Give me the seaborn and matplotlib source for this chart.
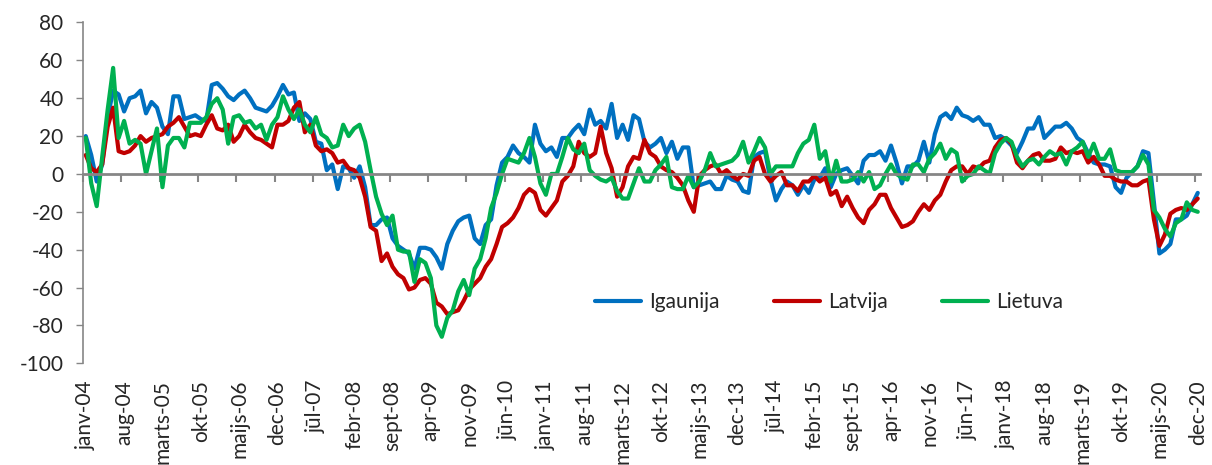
import pandas as pd
import matplotlib.pyplot as plt
import seaborn as sns

# Month names (Latvian) and years 2004-2020.
month_names = ["janv", "febr", "marts", "apr", "maijs", "jūn",
               "jūl", "aug", "sept", "okt", "nov", "dec"]
years = list(range(4, 21))
months = [f"{m}-{y:02d}" for y in years for m in month_names]

# Series values (one per month).
igaunija = [20, 10, -4, 5, 30, 44, 42, 33, 40, 41, 44, 32, 38, 35, 25, 21,
            41, 41, 29, 30, 31, 29, 28, 47, 48, 45, 41, 39, 42, 44, 40, 35,
            34, 33, 36, 41, 47, 42, 43, 28, 32, 29, 17, 16, 2, 5, -8, 4,
            3, -2, 4, -7, -27, -27, -24, -23, -34, -38, -40, -42, -50, -39,
            -39, -40, -44, -50, -37, -30, -25, -23, -22, -34, -37, -27,
            -24, -6, 6, 9, 15, 11, 9, 6, 26, 16, 12, 14, 9, 19, 19, 23,
            26, 21, 34, 26, 28, 24, 37, 19, 26, 18, 31, 29, 17, 14, 16,
            19, 11, 17, 8, 14, 14, -7, -6, -5, -4, -8, -8, -1, -3, -4, -9,
            -10, 9, 11, 12, -3, -14, -8, -4, -6, -11, -6, -10, -3, -2, 3,
            -7, 0, 2, 3, -1, -5, 7, 10, 10, 12, 7, 15, 6, -5, 4, 4, 7, 17,
            6, 21, 30, 32, 29, 35, 31, 30, 28, 30, 26, 26, 19, 20, 18, 15,
            11, 17, 24, 24, 30, 19, 22, 25, 25, 27, 24, 19, 17, 11, 6, 5,
            5, 4, -7, -10, -2, 1, 4, 12, 11, -15, -42, -40, -37, -24, -24,
            -22, -16, -10]

latvija = [10, 3, 1, 5, 25, 35, 12, 11, 12, 15, 20, 17, 19, 20, 21, 25,
           27, 30, 25, 20, 21, 20, 26, 31, 24, 23, 26, 17, 20, 26, 22, 19,
           18, 16, 14, 26, 26, 28, 35, 38, 22, 26, 15, 12, 13, 11, 6, 7,
           3, 2, -2, -12, -28, -30, -46, -42, -49, -53, -55, -61, -60, -56,
           -55, -58, -68, -70, -74, -73, -72, -67, -61, -58, -55, -49,
           -45, -37, -28, -26, -23, -18, -11, -8, -10, -19, -22, -18, -14,
           -4, -1, 4, 17, 11, 9, 11, 25, 11, 3, -12, -7, 4, 9, 8, 18, 11,
           9, 4, 2, 1, -2, -6, -14, -20, -1, 2, 4, 5, 0, 2, -1, -3, 0, -1,
           7, 9, 0, -4, -1, 1, -6, -6, -9, -4, -4, -1, -4, -2, -11, -9,
           -17, -12, -18, -23, -26, -19, -16, -11, -11, -18, -23, -28, -27,
           -25, -20, -16, -19, -14, -11, -4, 2, 4, 4, 0, 4, 3, 6, 7, 14,
           18, 19, 16, 6, 3, 7, 10, 11, 7, 7, 8, 14, 11, 12, 11, 12, 6, 9,
           5, -1, -1, -3, -4, -4, -6, -6, -4, -3, -24, -38, -32, -21, -19,
           -18, -19, -16, -13]

lietuva = [19, -5, -17, 9, 34, 56, 19, 28, 16, 18, 16, 0, 12, 24, -7, 15,
           19, 19, 14, 27, 27, 27, 30, 37, 40, 34, 16, 30, 31, 27, 28, 24,
           26, 18, 26, 30, 41, 34, 29, 34, 26, 22, 30, 21, 19, 14, 15, 26,
           20, 24, 26, 17, 2, -12, -21, -27, -22, -40, -41, -41, -57, -45,
           -47, -55, -80, -86, -76, -72, -62, -56, -64, -50, -45, -34, -18,
           -10, 0, 8, 7, 6, 11, 19, 9, -5, -11, 0, 0, 9, 19, 13, 11, 16, 2,
           -1, -3, -4, -2, -9, -13, -13, -5, 3, -4, -4, 2, 5, 9, -7, -8,
           -8, -1, -7, -4, 2, 11, 4, 5, 6, 7, 10, 17, 6, 12, 19, 14, 0, 4,
           4, 4, 4, 11, 16, 18, 26, 8, 12, -4, 7, -4, -4, -3, 1, -4, 1, -8,
           -6, 0, 5, 0, -2, -3, 5, 5, 1, 8, 11, 16, 8, 13, 11, -4, -1, 0,
           4, 2, 0, 11, 16, 19, 17, 9, 4, 7, 8, 5, 9, 12, 10, 11, 5, 12,
           14, 17, 9, 16, 8, 8, 13, 2, 1, 1, 1, 4, 10, 5, -19, -23, -29,
           -33, -26, -24, -15, -19, -20]

series_names = ["Igaunija", "Latvija", "Lietuva"]
colours = {"Igaunija": "#0070C0", "Latvija": "#C00000", "Lietuva": "#00B050"}

# Build a long DataFrame for seaborn.
n = len(months)
df = pd.DataFrame({
    "idx": list(range(n)) * 3,
    "value": igaunija + latvija + lietuva,
    "country": [s for s in series_names for _ in range(n)],
})

sns.set_style("white")
plt.rcParams["font.family"] = ["Lato", "DejaVu Sans"]
plt.rcParams["axes.unicode_minus"] = False

fig = plt.figure(figsize=(12.12, 4.65), dpi=100)
ax = fig.add_axes([0.0685, 0.2187, 0.922, 0.733])

sns.lineplot(data=df, x="idx", y="value", hue="country", palette=colours,
             linewidth=3, ax=ax)

axis_grey = "#868686"
label_size = 15

# Y axis.
ax.set_ylim(-100, 80)
ax.set_yticks(range(-100, 81, 20))
ax.tick_params(axis="y", direction="out", length=5, width=1,
               color=axis_grey, labelsize=label_size, pad=9, left=True)
ax.spines["left"].set_color(axis_grey)
ax.spines["left"].set_linewidth(1.2)
ax.spines["top"].set_visible(False)
ax.spines["right"].set_visible(False)

# X axis line at zero with tick marks between categories.
ax.set_xlim(-0.5, n - 0.5)
ax.spines["bottom"].set_position(("data", 0))
ax.spines["bottom"].set_color(axis_grey)
ax.spines["bottom"].set_linewidth(2)
ax.set_xticks([i - 0.5 for i in range(0, n + 1, 7)])
ax.tick_params(axis="x", direction="out", length=6, width=1.5,
               color=axis_grey, labelbottom=False, bottom=True)

# Category labels at the bottom of the plot area.
sec = ax.secondary_xaxis(0)
sec.set_xticks(list(range(0, n, 7)))
sec.set_xticklabels([months[i] for i in range(0, n, 7)], rotation=90,
                    fontsize=label_size)
sec.tick_params(length=0, pad=12)
sec.spines["bottom"].set_visible(False)

ax.set_xlabel("")
ax.set_ylabel("")

# Legend inside the plot.
ax.legend(loc="center", bbox_to_anchor=(0.668, 0.18), ncol=3,
          frameon=False, fontsize=label_size, handlelength=2.2,
          handletextpad=0.4, columnspacing=2.6)

plt.savefig("out.png", dpi=100)
